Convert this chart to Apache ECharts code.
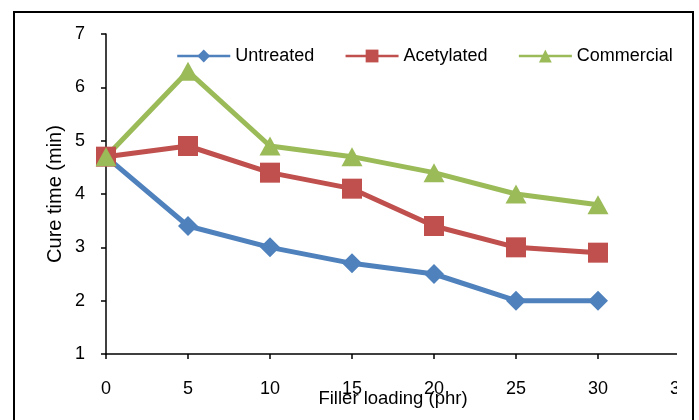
<!DOCTYPE html>
<html><head><meta charset="utf-8">
<script src="https://cdn.jsdelivr.net/npm/echarts@6/dist/echarts.min.js"></script>
<style>html,body{margin:0;padding:0;background:#fff}#c{width:699px;height:420px}</style>
</head><body><div id="c"></div>
<script>
const fillerLoading = [0, 5, 10, 15, 20, 25, 30];
const untreated = [4.7, 3.4, 3.0, 2.7, 2.5, 2.0, 2.0];
const acetylated = [4.7, 4.9, 4.4, 4.1, 3.4, 3.0, 2.9];
const commercial = [4.7, 6.3, 4.9, 4.7, 4.4, 4.0, 3.8];
const seriesNames = ['Untreated', 'Acetylated', 'Commercial'];

const font = 'Liberation Sans, Arial, sans-serif';
const chart = echarts.init(document.getElementById('c'));
function pairs(vals){ return fillerLoading.map((x,i)=>[x, vals[i]]); }
chart.setOption({
  animation: false,
  backgroundColor: '#fff',
  grid: {left: 106, right: 19, top: 34, bottom: 66, outerBoundsMode: 'none', containLabel: false},
  legend: {
    left: 176, top: 47, padding: 0, itemWidth: 53, itemHeight: 16, itemGap: 30,
    textStyle: {fontFamily: font, fontSize: 18, color: '#000', padding: [0,0,0,0]},
    lineStyle: {width: 2.5},
    data: seriesNames
  },
  xAxis: {
    type: 'value', min: 0, max: 35, interval: 5,
    name: 'Filler loading (phr)', nameLocation: 'middle', nameGap: 35, nameMoveOverlap: false,
    nameTextStyle: {fontFamily: font, fontSize: 18.5, color: '#000'},
    axisLine: {lineStyle: {color: '#000', width: 1.5}},
    axisTick: {show: true, length: 5, lineStyle: {color: '#000', width: 1.5}},
    axisLabel: {fontFamily: font, fontSize: 18, color: '#000', margin: 26},
    splitLine: {show: false}
  },
  yAxis: {
    type: 'value', min: 1, max: 7, interval: 1,
    name: 'Cure time (min)', nameLocation: 'middle', nameGap: 41, nameMoveOverlap: false,
    nameTextStyle: {fontFamily: font, fontSize: 20, color: '#000'},
    axisLine: {show: true, lineStyle: {color: '#000', width: 1.5}},
    axisTick: {show: true, length: 5, lineStyle: {color: '#000', width: 1.5}},
    axisLabel: {fontFamily: font, fontSize: 18, color: '#000', margin: 21},
    splitLine: {show: false}
  },
  series: [
    {name: seriesNames[0], type: 'line', data: pairs(untreated), symbol: 'diamond', symbolSize: 20,
     color: '#4F81BD', lineStyle: {width: 5, color: '#4F81BD'}, itemStyle: {color: '#4F81BD'}},
    {name: seriesNames[1], type: 'line', data: pairs(acetylated), symbol: 'rect', symbolSize: 20,
     color: '#C0504D', lineStyle: {width: 5, color: '#C0504D'}, itemStyle: {color: '#C0504D'}},
    {name: seriesNames[2], type: 'line', data: pairs(commercial), symbol: 'triangle', symbolSize: [21, 19],
     color: '#9BBB59', lineStyle: {width: 5, color: '#9BBB59'}, itemStyle: {color: '#9BBB59'}}
  ],
  graphic: [
    {type: 'rect', shape: {x: 677, y: 345, width: 14, height: 60}, style: {fill: '#fff'}, z: 100},
    {type: 'rect', shape: {x: 14, y: 12, width: 679, height: 420}, style: {fill: 'none', stroke: '#000', lineWidth: 2}, z: 101}
  ]
});
</script></body></html>
